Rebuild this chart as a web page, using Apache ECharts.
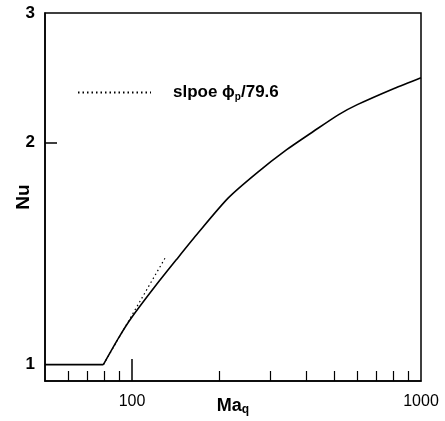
<!DOCTYPE html>
<html>
<head>
<meta charset="utf-8">
<script src="https://cdn.jsdelivr.net/npm/echarts@6/dist/echarts.min.js"></script>
<style>
html,body{margin:0;padding:0;background:#fff;}
#main{width:445px;height:421px;}
</style>
</head>
<body>
<div id="main"></div>
<script>
// Nu vs Ma_q
var maq = [50, 79.6, 90, 100, 121, 142, 167, 215, 270, 343, 425, 519, 602, 807, 1000];
var nu = [1, 1, 1.088, 1.16, 1.281, 1.386, 1.499, 1.682, 1.819, 1.957, 2.073, 2.184, 2.253, 2.37, 2.451];

// initial slope line
var slopeMa = [79.6, 130];
var slopeNu = [1, 1.394];

var xLabels = [100, 1000];
var xMajor = [100];
var xMinor = [60, 70, 80, 90, 200, 300, 400, 500, 600, 700, 800, 900];
var yLabels = [1, 2, 3];

function pairs(a, b){
    var out = [];
    for(var i=0;i<a.length;i++){
        out.push([a[i], b[i]]);
    }
    return out;
}

var myChart = echarts.init(document.getElementById('main'));
var option = {
    animation: false,
    backgroundColor: '#fff',
    grid: {
        left: 45, right: 24, top: 13, bottom: 40,
        outerBoundsMode: 'none',
        containLabel: false,
        show: true, borderColor: '#000', borderWidth: 1.5
    },
    legend: {
        left: 77, top: 84, padding: 0,
        itemWidth: 73, itemHeight: 14,
        data: ['slope'],
        itemStyle: {opacity: 0},
        formatter: function(){ return '{t|slpoe }{t|\u03d5}{s|p}{t|/79.6}'; },
        textStyle: {
            padding: [0, 0, 0, 17],
            rich: {
                t: {fontFamily: 'Liberation Sans', fontWeight: 'bold', fontSize: 17, color: '#000'},
                s: {fontFamily: 'Liberation Sans', fontWeight: 'bold', fontSize: 10, color: '#000', padding: [9, 0, 0, 0]}
            }
        }
    },
    xAxis: [
        {
            type: 'log', min: 50, max: 1000,
            position: 'bottom',
            axisLine: {lineStyle: {color: '#000', width: 1.5}},
            axisTick: {inside: true, length: 22, customValues: xMajor, lineStyle: {color: '#000', width: 1.5}},
            axisLabel: {
                customValues: xLabels, color: '#000', fontSize: 16, fontFamily: 'Liberation Sans', margin: 13,
                formatter: function(v){ return String(v); }
            },
            splitLine: {show: false},
            name: '{a|Ma}{q|q}',
            nameLocation: 'middle',
            nameMoveOverlap: false,
            nameGap: 15,
            nameTextStyle: {
                rich: {
                    a: {fontFamily: 'Liberation Sans', fontWeight: 'bold', fontSize: 18, color: '#000'},
                    q: {fontFamily: 'Liberation Sans', fontWeight: 'bold', fontSize: 12, color: '#000', padding: [8, 0, 0, 0]}
                }
            }
        },
        {
            type: 'log', min: 50, max: 1000,
            position: 'bottom',
            axisLine: {show: false},
            axisTick: {inside: true, length: 10, customValues: xMinor, lineStyle: {color: '#000', width: 1.2}},
            axisLabel: {show: false},
            splitLine: {show: false}
        }
    ],
    yAxis: {
        type: 'log', min: 0.95, max: 3,
        axisLine: {lineStyle: {color: '#000', width: 1.5}},
        axisTick: {inside: true, length: 12, customValues: [2], lineStyle: {color: '#000', width: 1.5}},
        axisLabel: {customValues: yLabels, color: '#000', fontSize: 17, fontWeight: 'bold', fontFamily: 'Liberation Sans', margin: 10},
        splitLine: {show: false},
        name: 'Nu',
        nameLocation: 'middle',
        nameMoveOverlap: false,
        nameGap: 12,
        nameTextStyle: {fontFamily: 'Liberation Sans', fontWeight: 'bold', fontSize: 19, color: '#000'}
    },
    series: [
        {
            name: 'Nu',
            type: 'line',
            data: pairs(maq.slice(0, 2), nu.slice(0, 2)),
            symbol: 'none',
            lineStyle: {color: '#000', width: 1.6}
        },
        {
            name: 'Nu',
            type: 'line',
            data: pairs(maq.slice(1), nu.slice(1)),
            symbol: 'none',
            smooth: 0.25,
            lineStyle: {color: '#000', width: 1.6}
        },
        {
            name: 'slope',
            type: 'line',
            data: pairs(slopeMa, slopeNu),
            symbol: 'none',
            lineStyle: {color: '#000', width: 1.2, type: [1.5, 3]}
        }
    ]
};
myChart.setOption(option);
</script>
</body>
</html>
